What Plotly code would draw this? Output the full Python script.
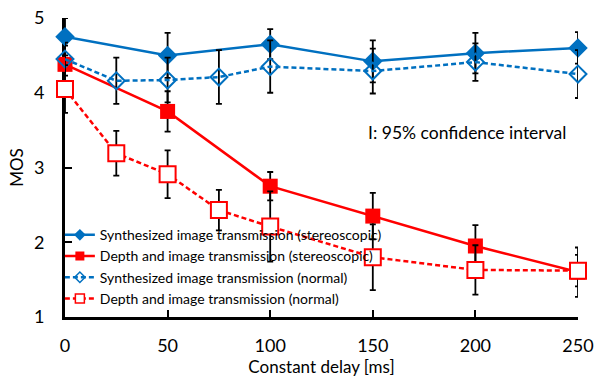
import plotly.graph_objects as go

delay_stereo = [0, 50, 100, 150, 200, 250]
delay_normal = [0, 25, 50, 75, 100, 150, 200, 250]

synth_stereo = [4.75, 4.50, 4.65, 4.42, 4.53, 4.60]
synth_stereo_ci = [0.25, 0.30, 0.20, 0.28, 0.27, 0.21]
depth_stereo = [4.38, 3.75, 2.75, 2.35, 1.95, 1.60]
depth_stereo_ci = [0.25, 0.27, 0.19, 0.31, 0.28, 0.33]
synth_normal = [4.45, 4.16, 4.17, 4.21, 4.35, 4.29, 4.41, 4.25]
synth_normal_ci = [0.22, 0.31, 0.30, 0.36, 0.35, 0.30, 0.25, 0.32]
depth_normal = [4.05, 3.19, 2.91, 2.43, 2.21, 1.80, 1.63, 1.62]
depth_normal_ci = [0.32, 0.30, 0.32, 0.27, 0.47, 0.44, 0.33, 0.21]

names = [
    "Synthesized image transmission (stereoscopic)",
    "Depth and image transmission (stereoscopic)",
    "Synthesized image transmission (normal)",
    "Depth and image transmission (normal)",
]

BLUE = "#0070C0"
RED = "#FF0000"
FONT = "Lato"

def err(ci):
    return dict(type="data", array=ci, visible=True, color="black", thickness=1.8, width=3)

fig = go.Figure()

series = [
    (delay_stereo, synth_stereo, synth_stereo_ci, BLUE, "solid", "diamond", 15, BLUE, 0, 9),
    (delay_stereo, depth_stereo, depth_stereo_ci, RED, "solid", "square", 15, RED, 0, 9),
    (delay_normal, synth_normal, synth_normal_ci, BLUE, "5px,3px", "diamond-open", 13, BLUE, 2, 8),
    (delay_normal, depth_normal, depth_normal_ci, RED, "5px,3px", "square", 16, "white", 2, 9),
]

for i, (xs, ys, ci, col, dash, sym, size, fill, lw, lsize) in enumerate(series):
    fig.add_trace(go.Scatter(
        x=xs, y=ys, mode="lines+markers", showlegend=False, cliponaxis=False,
        error_y=err(ci),
        line=dict(color=col, width=2.5, dash=dash),
        marker=dict(symbol=sym, size=size, color=fill if sym != "diamond-open" else BLUE,
                    line=dict(color=col, width=lw)),
    ))

# legend-only entries with smaller markers
for i, (xs, ys, ci, col, dash, sym, size, fill, lw, lsize) in enumerate(series):
    fig.add_trace(go.Scatter(
        x=[None], y=[None], mode="lines+markers", name=names[i], showlegend=True,
        line=dict(color=col, width=2.5, dash=dash),
        marker=dict(symbol=sym, size=lsize, color=fill if sym != "diamond-open" else BLUE,
                    line=dict(color=col, width=min(lw, 1.5))),
    ))

fig.add_annotation(
    x=196, y=3.47, xref="x", yref="y", text="I: 95% confidence interval",
    showarrow=False, font=dict(family=FONT, size=17.5, color="black"),
)

fig.update_layout(
    width=607, height=383,
    margin=dict(l=65, r=29, t=18, b=66),
    paper_bgcolor="white", plot_bgcolor="white",
    font=dict(family=FONT, color="black"),
    legend=dict(
        x=-0.01, y=0.327, xanchor="left", yanchor="top",
        bgcolor="rgba(0,0,0,0)", font=dict(family=FONT, size=14, color="black"),
        itemwidth=30, tracegroupgap=0,
    ),
    xaxis=dict(
        range=[0, 250], tickvals=[0, 50, 100, 150, 200, 250],
        showline=True, linecolor="black", linewidth=3, mirror=False,
        ticks="inside", ticklen=7, tickwidth=2, tickcolor="black",
        showgrid=False, zeroline=False, layer="below traces", automargin=False,
        tickfont=dict(family=FONT, size=18), ticklabelstandoff=10,
        ticklabeloverflow="allow",
        title=dict(text="Constant delay [ms]", font=dict(family=FONT, size=17), standoff=4),
    ),
    yaxis=dict(
        range=[1, 5], tickvals=[1, 2, 3, 4, 5],
        showline=True, linecolor="black", linewidth=3, mirror=False,
        ticks="inside", ticklen=7, tickwidth=2, tickcolor="black",
        showgrid=False, zeroline=False, layer="below traces", automargin=False,
        tickfont=dict(family=FONT, size=18), ticklabelstandoff=14,
        ticklabeloverflow="allow",
        title=dict(text="MOS", font=dict(family=FONT, size=17), standoff=6),
    ),
)

# remove the browser's default 8px page margin so the figure fills the window exactly
fig.write_html(
    "out.html",
    config={"displayModeBar": False},
    post_script="document.body.style.margin='0';document.body.style.overflow='hidden';",
)
